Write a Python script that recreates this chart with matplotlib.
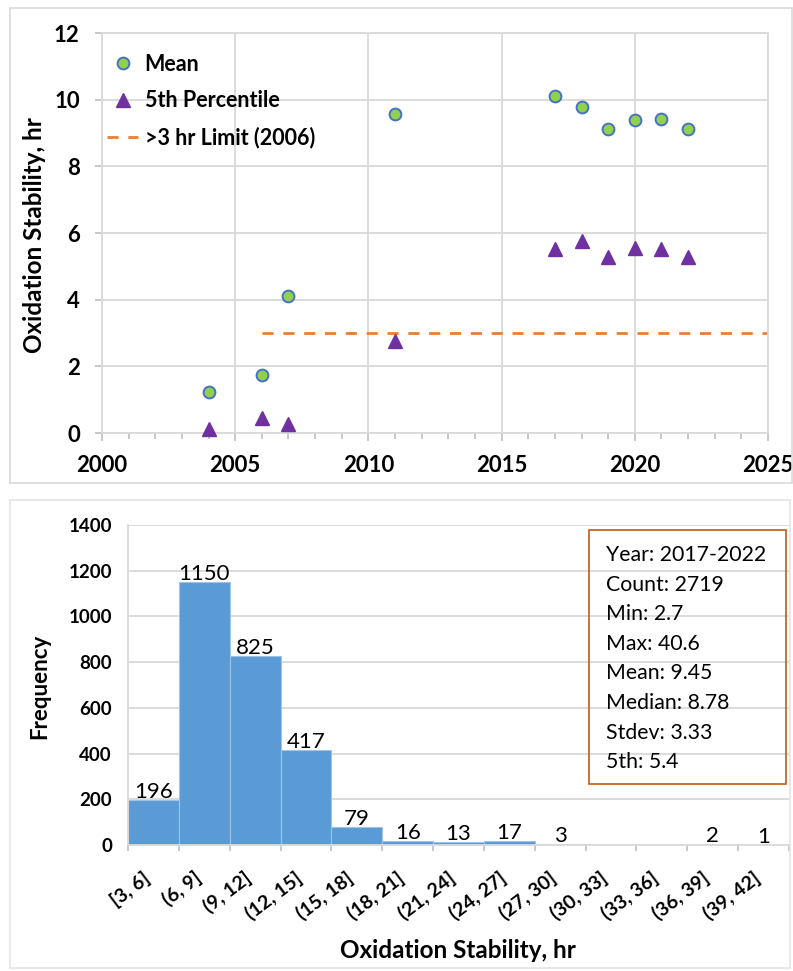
import matplotlib.pyplot as plt
from matplotlib.patches import Rectangle
from matplotlib.ticker import MultipleLocator, FixedLocator

plt.rcParams['font.family'] = ['Lato', 'DejaVu Sans']

# top chart: yearly oxidation stability
years = [2004, 2006, 2007, 2011, 2017, 2018, 2019, 2020, 2021, 2022]
mean_hr = [1.24, 1.74, 4.12, 9.56, 10.1, 9.78, 9.12, 9.39, 9.41, 9.13]
p5_hr = [0.12, 0.44, 0.27, 2.77, 5.52, 5.76, 5.28, 5.55, 5.52, 5.28]
limit_years = [2006, 2025]
limit_hr = [3.0, 3.0]

# bottom chart: histogram 2017-2022
bins = ["[3, 6]", "(6, 9]", "(9, 12]", "(12, 15]", "(15, 18]", "(18, 21]",
        "(21, 24]", "(24, 27]", "(27, 30]", "(30, 33]", "(33, 36]",
        "(36, 39]", "(39, 42]"]
counts = [196, 1150, 825, 417, 79, 16, 13, 17, 3, 0, 0, 2, 1]
stats_lines = ["Year: 2017-2022", "Count: 2719", "Min: 2.7", "Max: 40.6",
               "Mean: 9.45", "Median: 8.78", "Stdev: 3.33", "5th: 5.4"]

W, H = 793, 971
fig = plt.figure(figsize=(W / 100, H / 100), dpi=100)

def fx(px):
    return px / W

def fy(py):
    return 1 - py / H

grid_c = '#D9D9D9'
tick_c = '#BFBFBF'

# panel borders
fig.add_artist(Rectangle((fx(10), fy(483)), fx(792) - fx(10), fy(8) - fy(483),
                         transform=fig.transFigure, fill=False, edgecolor=grid_c, lw=1.2))
fig.add_artist(Rectangle((fx(10), fy(968)), fx(790) - fx(10), fy(500) - fy(968),
                         transform=fig.transFigure, fill=False, edgecolor='#E4E4E4', lw=1.2))

# ---- top chart
ax = fig.add_axes([fx(102), fy(433), fx(768) - fx(102), fy(33) - fy(433)])
ax.set_axisbelow(True)
ax.plot(limit_years, limit_hr, '--', color='#ED7D31', lw=2, dashes=(4, 3.5),
        label='>3 hr Limit (2006)')
ax.plot(years, mean_hr, 'o', ms=8.5, mfc='#92D050', mec='#4472C4', mew=1.4,
        label='Mean', clip_on=False, zorder=4)
ax.plot(years, p5_hr, '^', ms=10.5, color='#7030A0', label='5th Percentile',
        clip_on=False, zorder=4)
ax.set_xlim(2000, 2025)
ax.set_ylim(0, 12)
ax.xaxis.set_major_locator(MultipleLocator(5))
ax.xaxis.set_minor_locator(MultipleLocator(1))
ax.yaxis.set_major_locator(MultipleLocator(2))
ax.grid(True, which='major', color=grid_c, lw=1.3)
for s in ax.spines.values():
    s.set_color(grid_c)
    s.set_linewidth(1.3)
ax.tick_params(axis='x', which='major', length=6, width=1.2, color=tick_c, pad=10)
ax.tick_params(axis='x', which='minor', length=4.5, width=1.2, color=tick_c)
ax.tick_params(axis='y', which='major', length=5, width=1.2, color=tick_c, pad=11)
for lab in ax.get_xticklabels() + ax.get_yticklabels():
    lab.set_fontsize(16)
    lab.set_fontweight('bold')

h = ax.get_legend_handles_labels()[0]
ax.legend([h[1], h[2], h[0]], ['Mean', '5th Percentile', '>3 hr Limit (2006)'],
          loc='upper left', bbox_to_anchor=(0.0075, 0.948), frameon=False,
          borderpad=0, borderaxespad=0, handlelength=1.45, handletextpad=0.3,
          labelspacing=0.72, numpoints=1, prop={'size': 15.5, 'weight': 'bold'})

fig.text(fx(35), fy(235), 'Oxidation Stability, hr', rotation=90, ha='center',
         va='center', fontsize=17.5, fontweight='bold')

# ---- bottom chart
ax2 = fig.add_axes([fx(128), fy(845), fx(789) - fx(128), fy(525) - fy(845)])
ax2.set_axisbelow(True)
pos = list(range(len(bins)))
ax2.bar(pos, counts, width=1.0, color='#5B9BD5', edgecolor='#9DC3E6', linewidth=0.8)
for i, c in enumerate(counts):
    if c > 0:
        ax2.annotate(str(c), (i, c), xytext=(0, 1.5), textcoords='offset points',
                     ha='center', va='baseline', fontsize=16)
ax2.set_xlim(-0.5, len(bins) - 0.5)
ax2.set_ylim(0, 1400)
ax2.yaxis.set_major_locator(MultipleLocator(200))
ax2.grid(True, axis='y', color=grid_c, lw=1.3)
ax2.set_xticks(pos)
ax2.set_xticklabels(bins, rotation=37, ha='right', va='top', fontsize=14, fontweight='bold')
ax2.xaxis.set_minor_locator(FixedLocator([p - 0.5 for p in pos] + [len(bins) - 0.5]))
ax2.tick_params(axis='x', which='major', length=0, pad=17)
ax2.tick_params(axis='x', which='minor', length=4.5, width=1.2, color=tick_c)
ax2.tick_params(axis='y', length=0, pad=11.5)
for lab in ax2.get_yticklabels():
    lab.set_fontsize(13.5)
    lab.set_fontweight('bold')
ax2.spines['top'].set_visible(False)
ax2.spines['right'].set_visible(False)
for s in ['left', 'bottom']:
    ax2.spines[s].set_color(grid_c)
    ax2.spines[s].set_linewidth(1.3)

fig.text(fx(40), fy(686), 'Frequency', rotation=90, ha='center', va='center',
         fontsize=16, fontweight='bold')
fig.text(fx(458), fy(950), 'Oxidation Stability, hr', ha='center', va='center',
         fontsize=17.5, fontweight='bold')

# stats box
fig.add_artist(Rectangle((fx(589), fy(784)), fx(786) - fx(589), fy(530) - fy(784),
                         transform=fig.transFigure, fill=False, edgecolor='#C55A11', lw=1.2))
for k, line in enumerate(stats_lines):
    fig.text(fx(606), fy(561 + 29.6 * k), line, ha='left', va='baseline', fontsize=15.3)

fig.savefig('out.png', dpi=100)
